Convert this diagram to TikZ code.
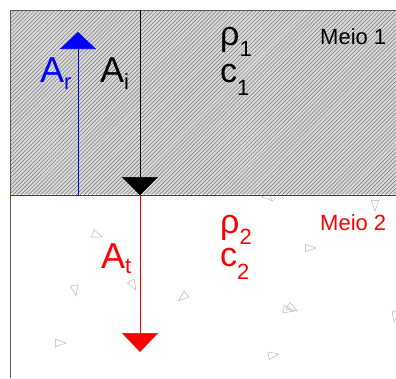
\documentclass[tikz,border=0pt]{standalone}
\usepackage{fontspec}
\setmainfont{Liberation Sans}
\usetikzlibrary{positioning,arrows.meta,patterns.meta}

\newcommand\lowsub[2][0.3em]{\raisebox{-#1}{\fontsize{22}{22}\selectfont #2}}

\begin{document}
\begin{tikzpicture}[x=1pt,y=-1pt,
    big/.style={anchor=base west,inner sep=0pt,font=\fontsize{36}{36}\selectfont},
    prop/.style={anchor=base west,inner sep=0pt,font=\fontsize{34}{34}\selectfont},
    meio/.style={anchor=base west,inner sep=0pt,font=\fontsize{22}{22}\selectfont},
    wave/.style={line width=0.6pt},
    grain/.style={draw=gray!55,line width=0.5pt}]
\useasboundingbox (0,0) rectangle (396,378);

% meio 1 (hatched)
\fill[gray!30] (10,10) rectangle (396,194);
\fill[pattern={Lines[angle=45,distance=2.8pt,line width=0.5pt]},pattern color=gray!90!black] (10,10) rectangle (396,194);
\draw[gray!70!black,line width=0.6pt] (396,10) -- (10,10) -- (10,378);

% meio 2 grains
\foreach \x/\y/\a in {97/235/20,75/290/80,60/343/0,133/285/60,183/297/140,
    375/205/90,310/248/0,292/308/30,288/310/10,273/355/-10,395/316/100,268/197/40}
  \draw[grain] (\x,\y) +(\a:6) -- +(\a+140:6) -- +(\a+220:6) -- cycle;

% interface
\draw[blue!85,line width=1pt] (10,195) -- (396,195);

\coordinate (itop) at (140,10);
\coordinate (ibot) at (140,195);
\coordinate (rbot) at (78,195);
\coordinate (rtop) at (78,32);
\coordinate (tbot) at (140,352);

\draw[wave,black,-{Triangle[width=36pt,length=18pt]}] (itop) -- (ibot);
\draw[wave,blue,-{Triangle[width=36pt,length=17pt]}] (rbot) -- (rtop);
\draw[wave,red,-{Triangle[width=36pt,length=19pt]}] (ibot) -- (tbot);

\node[big,blue] (ar) at (40,82) {A\lowsub[0.2em]{r}};
\node[big] (ai) at (100,82) {A\lowsub[0.2em]{i}};
\node[big,red] (at) at (101,268) {A\lowsub[0.15em]{t}};

\node[prop] (rho1) at (220,45) {ρ\lowsub[0.35em]{1}};
\node[prop] (c1) at (220,82) {c\lowsub[0.4em]{1}};
\node[prop,red] (rho2) at (220,233) {ρ\lowsub[0.35em]{2}};
\node[prop,red] (c2) at (220,266) {c\lowsub[0.4em]{2}};

\node[meio] (m1) at (320,44) {Meio 1};
\node[meio,red] (m2) at (320,230) {Meio 2};
\end{tikzpicture}
\end{document}
